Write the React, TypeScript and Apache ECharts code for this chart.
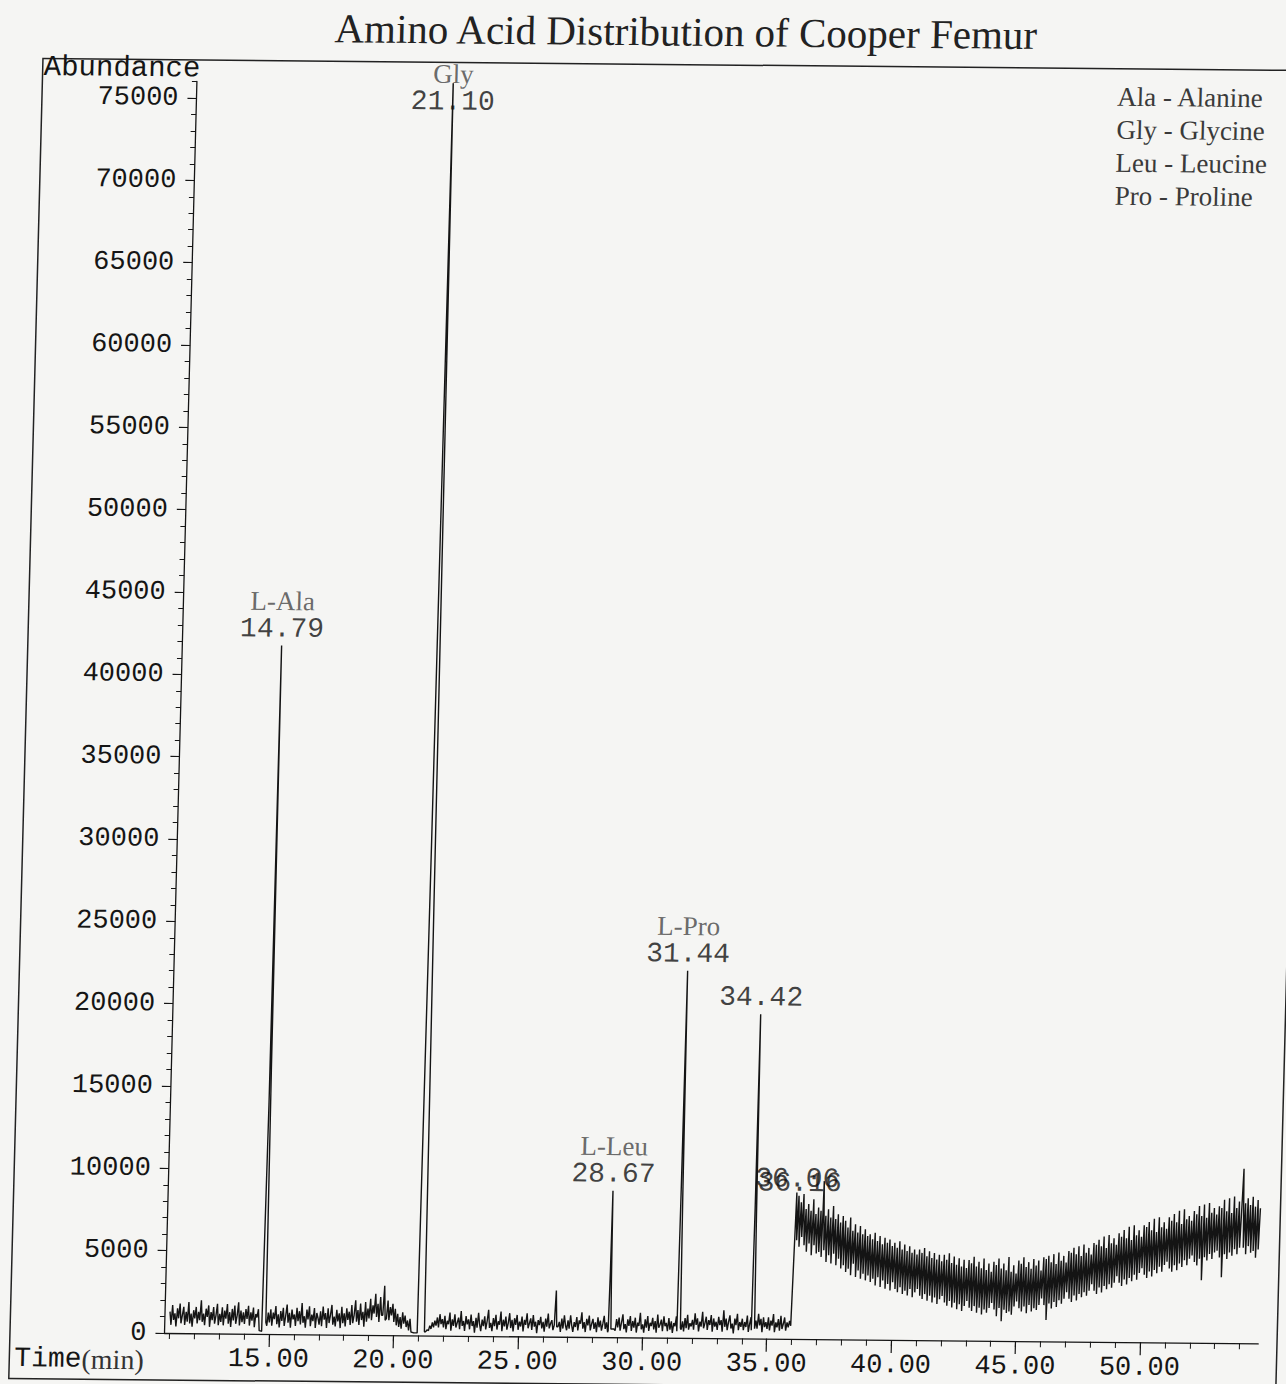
import React, { useEffect, useRef } from 'react';
import * as echarts from 'echarts';

// Baseline abundance sampled every 0.05 min
const baseAStart = 11.0; // 11.00 – 20.95
const baseA = [
  1300, 500, 1700, 800, 1200, 400, 1500, 900, 1800, 600, 1100, 1600, 500, 1300, 700, 1900, 600, 1200, 400, 1400,
  900, 1600, 600, 1300, 800, 2000, 700, 1200, 500, 1500, 1000, 1700, 400, 1300, 800, 1600, 600, 1100, 1800, 500,
  1200, 700, 1600, 500, 1400, 900, 1800, 600, 1300, 400, 1500, 800, 1700, 600, 1100, 1900, 500, 1400, 700, 1300,
  600, 1500, 900, 1700, 500, 1300, 800, 1600, 400, 1200, 1000, 1500, 200, 180, 160, 150, 150, 150, 500, 1300,
  700, 1500, 500, 1300, 900, 1700, 600, 1200, 400, 1400, 800, 1600, 500, 1100, 1800, 700, 1300, 400, 1500, 900,
  1200, 500, 1600, 800, 1400, 600, 1900, 700, 1100, 400, 1500, 900, 1700, 500, 1200, 800, 1600, 400, 1300, 1000,
  600, 1400, 500, 1700, 900, 1300, 400, 1600, 700, 1200, 1800, 600, 1100, 500, 1500, 800, 1300, 400, 1700, 700,
  1300, 500, 1600, 900, 1400, 600, 1800, 700, 1200, 2100, 800, 1500, 600, 1900, 900, 1400, 500, 2000, 800, 1600,
  1000, 2200, 900, 1800, 1300, 2500, 1100, 1900, 800, 2300, 1200, 1500, 1500, 1500, 1000, 2100, 900, 1700, 1200, 1900,
  800, 1600, 600, 1300, 500, 1100, 400, 1400, 700, 1200, 500, 900, 300, 1000, 200, 180, 160, 150, 150, 150,
];
const baseBStart = 21.0; // 21.00 – 35.95
const baseB = [
  150, 150, 150, 150, 150, 200, 250, 350, 300, 600, 400, 800, 500, 900, 600, 1100, 500, 1300, 700, 1000,
  500, 1200, 400, 900, 700, 1400, 300, 1000, 600, 1300, 500, 800, 1100, 400, 1500, 600, 900, 300, 1200, 700,
  1000, 400, 1300, 600, 900, 200, 1100, 500, 1400, 700, 300, 1000, 600, 1200, 400, 900, 1600, 500, 800, 300,
  1100, 600, 1300, 400, 900, 700, 1500, 300, 1000, 600, 1200, 400, 800, 1400, 500, 1000, 300, 1100, 700, 1300,
  400, 900, 600, 1200, 300, 1000, 700, 1400, 500, 800, 1100, 400, 1300, 600, 900, 200, 1000, 700, 1200, 500,
  900, 300, 1100, 600, 1400, 500, 800, 1000, 400, 1200, 1200, 1200, 600, 900, 300, 1100, 500, 1300, 700, 400,
  1000, 500, 1300, 700, 300, 900, 600, 1200, 400, 1000, 800, 1500, 500, 900, 300, 1100, 700, 1300, 400, 800,
  1100, 500, 900, 300, 1200, 600, 1000, 400, 800, 1300, 500, 900, 300, 1000, 600, 500, 500, 500, 400, 1100,
  600, 1200, 400, 900, 1400, 500, 800, 300, 1100, 700, 1300, 400, 1000, 600, 1200, 300, 900, 700, 1500, 500,
  800, 300, 1100, 600, 1300, 400, 900, 700, 1200, 500, 1000, 300, 1400, 600, 800, 1100, 400, 1300, 700, 900,
  400, 1200, 500, 1000, 300, 900, 700, 1300, 500, 500, 500, 500, 1000, 400, 1200, 600, 1400, 500, 900, 700,
  1100, 500, 1500, 800, 1200, 400, 1000, 700, 1600, 600, 900, 1300, 500, 1100, 800, 1400, 400, 1200, 700, 1000,
  500, 1300, 800, 1100, 400, 1700, 700, 1200, 500, 1000, 1400, 600, 900, 300, 1200, 800, 1500, 500, 1000, 700,
  1200, 500, 1000, 700, 1400, 400, 900, 1300, 500, 500, 500, 1100, 600, 1500, 800, 1200, 400, 1300, 700, 1000,
  600, 1300, 500, 1100, 800, 1500, 400, 1000, 700, 1200, 500, 1400, 600, 900, 1300, 500, 1000, 700, 1100, 800,
];
const baseCStart = 36.0; // 36.00 – 54.70
const baseC = [
  4500, 8200, 6000, 8700, 5600, 8300, 6200, 8800, 5700, 7900, 5300, 8200, 5800, 7800, 5100, 8500, 5700, 7600, 5200, 8000,
  5300, 7800, 5000, 9600, 5400, 7500, 4700, 7900, 5100, 7400, 4600, 8100, 5200, 7300, 4500, 7600, 4900, 7100, 4300, 7500,
  4500, 7200, 4100, 6800, 4300, 7400, 3900, 6600, 4600, 7000, 3800, 6500, 4200, 6900, 3700, 6400, 4000, 6700, 3600, 6300,
  3900, 6400, 3500, 6100, 3700, 6500, 3300, 6000, 3800, 6300, 3200, 5800, 3600, 6200, 3100, 5900, 3400, 6100, 3000, 5700,
  3500, 5900, 3100, 5600, 2900, 6000, 3200, 5500, 2800, 5800, 3000, 5400, 2700, 5700, 3100, 5300, 2600, 5500, 2900, 5200,
  3100, 5500, 2700, 5300, 2500, 5600, 2800, 5100, 2400, 5400, 2700, 5000, 2300, 5300, 2600, 4900, 2200, 5200, 2500, 4800,
  2700, 5200, 2300, 4900, 2100, 5300, 2400, 4700, 2000, 5100, 2300, 4600, 1900, 5000, 2200, 4500, 1800, 4900, 2100, 4400,
  2400, 4900, 2000, 4700, 1800, 5100, 2100, 4500, 1700, 4800, 2000, 4400, 1600, 5000, 1900, 4300, 1700, 4700, 2000, 4200,
  2300, 4800, 1900, 4600, 1500, 5000, 2000, 4400, 1200, 4700, 1900, 4300, 1700, 5100, 1800, 4200, 1600, 4600, 2100, 4100,
  2400, 4900, 2000, 4700, 1800, 5100, 2100, 4500, 1700, 4800, 2200, 4400, 1800, 5000, 2000, 4600, 1900, 4900, 2200, 4300,
  2600, 5100, 2200, 5000, 1300, 5200, 2300, 4800, 2000, 5300, 2400, 4700, 2100, 5400, 2500, 4900, 2300, 5200, 2600, 4800,
  3000, 5500, 2600, 5400, 2400, 5700, 2800, 5300, 2500, 5800, 2900, 5200, 2700, 5900, 3000, 5400, 2800, 5700, 3100, 5300,
  3500, 6000, 3100, 5900, 2900, 6200, 3300, 5800, 3000, 6400, 3400, 5700, 3200, 6500, 3500, 6000, 3300, 6300, 3600, 5900,
  4000, 6600, 3600, 6400, 3400, 6800, 3800, 6300, 3500, 7000, 3900, 6200, 3700, 7100, 4100, 6500, 3800, 6800, 4200, 6400,
  4500, 7100, 4100, 7000, 3900, 7300, 4300, 6800, 4000, 7500, 4400, 6700, 4200, 7600, 4600, 7000, 4300, 7300, 4700, 6900,
  4900, 7600, 4500, 7400, 4300, 7800, 4700, 7300, 4400, 8000, 4800, 7200, 4600, 8100, 5000, 7500, 4700, 7700, 5100, 7400,
  5300, 8000, 4900, 7800, 4700, 8300, 5100, 7700, 3800, 8400, 5200, 7600, 5000, 8500, 5400, 7900, 5100, 8200, 5500, 7800,
  5600, 8300, 5200, 8200, 4000, 8700, 5400, 8000, 5100, 8800, 5500, 7900, 5300, 8900, 5700, 8200, 5400, 8600, 5800, 8100,
  10600, 5800, 8500, 5400, 8800, 5900, 8400, 5500, 8900, 5600, 8300, 5200, 8700, 5700, 8200,
];

// Peaks as [time (min), abundance]
const pkAla = [[14.72, 150], [14.76, 14000], [14.79, 41800], [14.82, 16000], [14.86, 700]];
const pkGly = [[20.97, 150], [21.02, 30000], [21.10, 77000], [21.18, 26000], [21.24, 250]];
const pk196 = [[19.55, 1200], [19.6, 3000], [19.65, 900]];
const pk265 = [[26.45, 700], [26.5, 2800], [26.55, 600]];
const pkLeu = [[28.62, 400], [28.65, 4000], [28.67, 8900], [28.70, 3500], [28.73, 500]];
const pkPro = [[31.38, 400], [31.41, 9000], [31.44, 22300], [31.48, 8500], [31.52, 600]];
const pk3442 = [[34.37, 500], [34.40, 8000], [34.42, 19700], [34.46, 7500], [34.50, 600]];
const pk3606 = [[36.06, 8900]];
const pk3616 = [[36.16, 8300]];

// Peak annotations
const labelNames = ['L-Ala', 'Gly', 'L-Leu', 'L-Pro', '', '', ''];
const labelTimes = [14.79, 21.10, 28.67, 31.44, 34.42, 36.06, 36.16];
const labelHeights = [41800, 73900, 8900, 22300, 19700, 8700, 8450];

// Axis ticks
const xMajor = [15, 20, 25, 30, 35, 40, 45, 50];
const yMajor = [0, 5000, 10000, 15000, 20000, 25000, 30000, 35000, 40000, 45000, 50000, 55000, 60000, 65000, 70000, 75000];

const legendLines = ['Ala - Alanine', 'Gly - Glycine', 'Leu - Leucine', 'Pro - Proline'];
const titleText = 'Amino Acid Distribution of Cooper Femur';

const MONO = '"Liberation Mono", "DejaVu Sans Mono", monospace';
const SERIF = '"Liberation Serif", "DejaVu Serif", serif';

function buildSignal() {
  const seg = (vals: number[], start: number, step: number) =>
    vals.map((v, i) => [Math.round((start + i * step) * 1000) / 1000, v]);
  let base = [
    ...seg(baseA, baseAStart, 0.05),
    ...seg(baseB, baseBStart, 0.05),
    ...seg(baseC, baseCStart, 0.05),
  ];
  const peaks = [pkAla, pkGly, pk196, pk265, pkLeu, pkPro, pk3442, pk3606, pk3616];
  peaks.forEach((p) => {
    if (p.length > 1) {
      const a = p[0][0];
      const b = p[p.length - 1][0];
      base = base.filter((pt) => pt[0] < a || pt[0] > b);
    }
  });
  const all = [...base];
  peaks.forEach((p) => p.forEach((pt) => all.push([pt[0], pt[1]])));
  all.sort((m, n) => m[0] - n[0]);
  return all;
}

export default function App() {
  const ref = useRef<HTMLDivElement>(null);
  useEffect(() => {
    if (!ref.current) return;
    const chart = echarts.init(ref.current, undefined, { renderer: 'svg' });
    const minorX: number[] = [];
    for (let t = 11; t <= 54; t++) minorX.push(t);
    const minorY: number[] = [];
    for (let v = 0; v <= 76000; v += 1000) minorY.push(v);
    const axisColor = '#151515';

    const option: any = {
      animation: false,
      backgroundColor: 'transparent',
      grid: { left: 164.5, right: 27.8, top: 81.5, bottom: 51, containLabel: false },
      xAxis: [
        {
          type: 'value', min: 10.8, max: 54.75, position: 'bottom',
          axisLine: { show: true, onZero: false, lineStyle: { color: axisColor, width: 1.3 } },
          axisTick: { show: true, customValues: xMajor, length: 13, lineStyle: { color: axisColor, width: 1.2 } },
          axisLabel: {
            customValues: xMajor, formatter: (v: number) => v.toFixed(2),
            fontFamily: MONO, fontSize: 27, color: axisColor, margin: 12,
          },
          splitLine: { show: false },
        },
        {
          type: 'value', min: 10.8, max: 54.75, position: 'bottom',
          axisLine: { show: false, onZero: false },
          axisTick: { show: true, customValues: minorX, length: 6, lineStyle: { color: axisColor, width: 1 } },
          axisLabel: { show: false },
          splitLine: { show: false },
        },
      ],
      yAxis: [
        {
          type: 'value', min: 0, max: 76000, position: 'left',
          axisLine: { show: true, onZero: false, lineStyle: { color: axisColor, width: 1.3 } },
          axisTick: { show: true, customValues: yMajor, length: 9, lineStyle: { color: axisColor, width: 1.2 } },
          axisLabel: {
            customValues: yMajor, formatter: (v: number) => String(v),
            fontFamily: MONO, fontSize: 27, color: axisColor, margin: 18,
          },
          splitLine: { show: false },
        },
        {
          type: 'value', min: 0, max: 76000, position: 'left',
          axisLine: { show: false, onZero: false },
          axisTick: { show: true, customValues: minorY, length: 5, lineStyle: { color: axisColor, width: 1 } },
          axisLabel: { show: false },
          splitLine: { show: false },
        },
      ],
      series: [
        {
          type: 'line', xAxisIndex: 0, yAxisIndex: 0, data: buildSignal(),
          showSymbol: false, symbol: 'none', clip: true, silent: true,
          lineStyle: { color: '#141414', width: 1.4 },
        },
        {
          type: 'scatter', xAxisIndex: 0, yAxisIndex: 0, symbolSize: 1, silent: true,
          itemStyle: { color: 'rgba(0,0,0,0)' },
          data: labelTimes.map((t, i) => ({ value: [t, labelHeights[i]], name: labelNames[i] })),
          label: {
            show: true, position: 'top', distance: 2,
            formatter: (p: any) => {
              const name = labelNames[p.dataIndex];
              const txt = labelTimes[p.dataIndex].toFixed(2);
              return name ? `{n|${name}}\n{v|${txt}}` : `{v|${txt}}`;
            },
            rich: {
              n: { fontFamily: SERIF, fontSize: 27, color: '#454545', lineHeight: 28, align: 'center' },
              v: { fontFamily: MONO, fontSize: 28, color: '#111', lineHeight: 28, align: 'center' },
            },
          },
          z: 5,
        },
      ],
      graphic: [
        {
          type: 'rect', silent: true,
          shape: { x: 10, y: 60, width: 1267, height: 1320 },
          style: { fill: 'none', stroke: '#222', lineWidth: 1.5 },
        },
        {
          type: 'text', x: 652, y: 27,
          style: { text: titleText, font: `41px ${SERIF}`, fill: '#222', textAlign: 'center', textVerticalAlign: 'middle' },
        },
        {
          type: 'text', x: 11, y: 69,
          style: { text: 'Abundance', font: `29px ${MONO}`, fill: '#151515', textAlign: 'left', textVerticalAlign: 'middle' },
        },
        {
          type: 'text', x: 15, y: 1360,
          style: {
            text: '{a|Time}{b|(min)}', textAlign: 'left', textVerticalAlign: 'middle',
            rich: {
              a: { fontFamily: MONO, fontSize: 28, fill: '#151515' },
              b: { fontFamily: SERIF, fontSize: 28, fill: '#333' },
            },
          },
        },
        ...legendLines.map((s, i) => ({
          type: 'text', x: 1085, y: 88 + i * 33,
          style: { text: s, font: `27px ${SERIF}`, fill: '#3a3a3a', textAlign: 'left', textVerticalAlign: 'middle' },
        })),
      ],
    };
    chart.setOption(option);
    return () => chart.dispose();
  }, []);

  return (
    <div style={{ position: 'absolute', left: 0, top: 0, width: 1286, height: 1384, background: '#f5f5f3', overflow: 'hidden' }}>
      <div
        ref={ref}
        style={{
          width: 1286, height: 1384,
          transform: 'matrix(1, 0.0095, -0.0259, 1, 0, 0)',
          transformOrigin: '165px 1333px',
        }}
      />
    </div>
  );
}
